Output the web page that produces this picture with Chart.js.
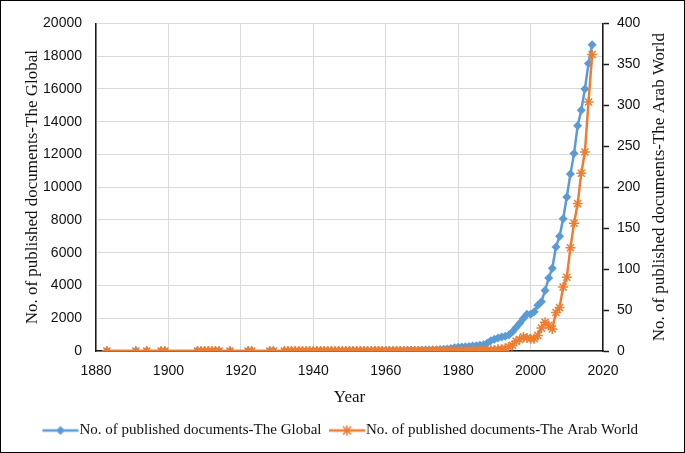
<!DOCTYPE html>
<html>
<head>
<meta charset="utf-8">
<script src="https://cdn.jsdelivr.net/npm/chart.js@4.4.0/dist/chart.umd.min.js"></script>
<style>
  html, body { margin: 0; padding: 0; background: #fff; }
  #wrap { width: 685px; height: 453px; box-sizing: border-box; border: 1px solid #000; }
  canvas { display: block; }
</style>
</head>
<body>
<div id="wrap"><canvas id="chart" width="683" height="451"></canvas></div>
<script>
// years with publications
const years = [
  1883, 1891, 1894, 1898, 1899, 1908, 1909, 1910, 1911, 1912, 1913, 1914, 1917, 1922, 1923, 1928, 1929,
  1932, 1933, 1934, 1935, 1936, 1937, 1938, 1939, 1940, 1941,
  1942, 1943, 1944, 1945, 1946, 1947, 1948, 1949, 1950, 1951,
  1952, 1953, 1954, 1955, 1956, 1957, 1958, 1959, 1960, 1961,
  1962, 1963, 1964, 1965, 1966, 1967, 1968, 1969,
  1970, 1971, 1972, 1973, 1974, 1975, 1976, 1977, 1978, 1979,
  1980, 1981, 1982, 1983, 1984, 1985, 1986, 1987, 1988, 1989,
  1990, 1991, 1992, 1993, 1994, 1995, 1996, 1997, 1998, 1999,
  2000, 2001, 2002, 2003, 2004, 2005, 2006, 2007, 2008, 2009,
  2010, 2011, 2012, 2013, 2014, 2015, 2016, 2017
];

// No. of published documents - The Global (left axis)
const globalDocs = [
  1, 1, 1, 1, 2, 1, 1, 2, 1, 2, 1, 2, 1, 2, 1, 2, 2,
  3, 3, 4, 4, 5, 5, 6, 6, 7, 8,
  8, 9, 10, 10, 11, 12, 13, 14, 15, 16,
  17, 18, 19, 20, 22, 23, 25, 26, 28, 30,
  32, 34, 36, 38, 41, 44, 47, 50,
  55, 60, 66, 72, 80, 90, 105, 125, 160, 200,
  230, 250, 265, 280, 300, 320, 345, 380, 480, 620,
  720, 800, 860, 900, 980, 1180, 1430, 1700, 1980, 2250,
  2250, 2400, 2800, 3000, 3700, 4450, 5050, 6350, 7000, 8080,
  9400, 10800, 12050, 13750, 14700, 16000, 17550, 18700
];

// No. of published documents - The Arab World (right axis)
const arabDocs = [
  0, 0, 0, 0, 0, 0, 0, 0, 0, 0, 0, 0, 0, 0, 0, 0, 0,
  0, 0, 0, 0, 0, 0, 0, 0, 0, 0,
  0, 0, 0, 0, 0, 0, 0, 0, 0, 0,
  0, 0, 0, 0, 0, 0, 0, 0, 0, 0,
  0, 0, 0, 0, 0, 0, 0, 0,
  0, 0, 0, 0, 0, 0, 0, 0, 0, 0,
  0, 0, 0, 0, 1, 0, 1, 1, 1, 1,
  1, 2, 2, 3, 5, 7, 12, 14, 17, 16,
  15, 15, 19, 28, 35, 31, 27, 47, 53, 78,
  90, 126, 156, 180, 217, 243, 304, 362
];

const leftTitle = 'No. of published documents-The Global';
const rightTitle = 'No. of published documents-The Arab World';

const blue = '#5b9bd5';
const orange = '#ed7d31';
const axisColor = '#1a1a1a';
const gridColor = '#d9d9d9';
const textColor = '#111';

const toPoints = vals => years.map((yr, i) => ({ x: yr, y: vals[i] }));

// legend icon: a short line with the marker in its middle
// (wider than the legend box so the line reaches close to the text)
function legendIcon(color, kind) {
  const c = document.createElement('canvas');
  c.width = 60; c.height = 14;
  const g = c.getContext('2d');
  g.strokeStyle = color;
  g.fillStyle = color;
  g.lineWidth = 2.5;
  g.beginPath(); g.moveTo(13, 7); g.lineTo(49, 7); g.stroke();
  const cx = 31, cy = 7;
  if (kind === 'diamond') {
    g.beginPath();
    g.moveTo(cx, cy - 4.5); g.lineTo(cx + 4.5, cy); g.lineTo(cx, cy + 4.5); g.lineTo(cx - 4.5, cy);
    g.closePath(); g.fill();
  } else {
    g.lineWidth = 1.5;
    g.beginPath();
    g.moveTo(cx - 4, cy - 4); g.lineTo(cx + 4, cy + 4);
    g.moveTo(cx + 4, cy - 4); g.lineTo(cx - 4, cy + 4);
    g.moveTo(cx, cy - 5); g.lineTo(cx, cy + 5);
    g.stroke();
  }
  return c;
}

const icons = [legendIcon(blue, 'diamond'), legendIcon(orange, 'star')];

const tickFont = { family: 'Liberation Sans', size: 14 };
const titleFont = { family: 'Liberation Serif', size: 17 };

// right axis title, read bottom to top like the left one
const rightTitlePlugin = {
  id: 'rightTitle',
  afterDraw(chart) {
    const { ctx, chartArea } = chart;
    ctx.save();
    ctx.translate(659, (chartArea.top + chartArea.bottom) / 2);
    ctx.rotate(-Math.PI / 2);
    ctx.font = '17px "Liberation Serif"';
    ctx.fillStyle = textColor;
    ctx.textAlign = 'center';
    ctx.textBaseline = 'middle';
    ctx.fillText(rightTitle, 0, 0);
    ctx.restore();
  }
};

new Chart(document.getElementById('chart'), {
  type: 'line',
  data: {
    datasets: [
      {
        label: 'No. of published documents-The Global',
        data: toPoints(globalDocs),
        yAxisID: 'y',
        borderColor: blue,
        backgroundColor: blue,
        borderWidth: 2.5,
        pointStyle: 'rectRot',
        pointRadius: 4.5,
        pointBorderWidth: 0,
        order: 2
      },
      {
        label: 'No. of published documents-The Arab World',
        data: toPoints(arabDocs),
        yAxisID: 'y1',
        borderColor: orange,
        backgroundColor: orange,
        borderWidth: 2.5,
        pointStyle: 'star',
        pointRadius: 5,
        pointBorderWidth: 1.5,
        order: 1
      }
    ]
  },
  options: {
    responsive: false,
    animation: false,
    layout: { padding: { top: 19, left: 0, right: 0, bottom: 4 } },
    plugins: {
      tooltip: { enabled: false },
      legend: {
        position: 'bottom',
        labels: {
          usePointStyle: true,
          pointStyleWidth: 25,
          padding: 12,
          color: textColor,
          font: { family: 'Liberation Serif', size: 15 },
          generateLabels: chart => chart.data.datasets.map((ds, i) => ({
            text: ds.label,
            pointStyle: icons[i],
            fillStyle: ds.borderColor,
            strokeStyle: ds.borderColor,
            lineWidth: 0,
            fontColor: textColor,
            datasetIndex: i
          }))
        }
      }
    },
    scales: {
      x: {
        type: 'linear',
        min: 1880,
        max: 2020,
        ticks: { stepSize: 20, font: tickFont, color: textColor, padding: 12, callback: v => String(v) },
        grid: { color: gridColor, drawTicks: false },
        border: { color: axisColor, width: 1.5 },
        title: { display: true, text: 'Year', font: titleFont, color: textColor, padding: { top: 4, bottom: 3 } },
        afterFit: s => { s.height = 60; }
      },
      y: {
        position: 'left',
        min: 0,
        max: 20000,
        ticks: { stepSize: 2000, font: tickFont, color: textColor, padding: 14, callback: v => String(v) },
        grid: { color: gridColor, drawTicks: false },
        border: { color: axisColor, width: 1.5 },
        title: { display: true, text: leftTitle, font: titleFont, color: textColor, padding: { top: 21, bottom: 0 } },
        afterFit: s => { s.width = 95; }
      },
      y1: {
        position: 'right',
        min: 0,
        max: 400,
        ticks: { stepSize: 50, font: tickFont, color: textColor, padding: 8, callback: v => String(v) },
        grid: { drawOnChartArea: false, tickLength: 6, tickColor: axisColor, tickWidth: 1.5 },
        border: { color: axisColor, width: 1.5 },
        title: { display: false },
        afterFit: s => { s.width = 81; }
      }
    }
  },
  plugins: [rightTitlePlugin]
});
</script>
</body>
</html>
